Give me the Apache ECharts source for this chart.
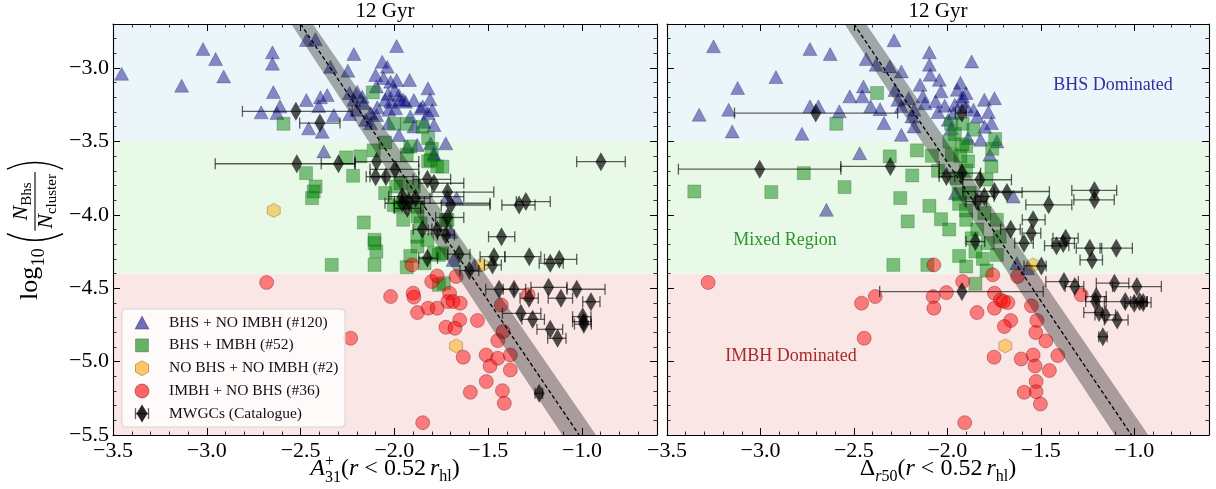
<!DOCTYPE html>
<html><head><meta charset="utf-8">
<script src="https://cdn.jsdelivr.net/npm/echarts@6/dist/echarts.min.js"></script>
<style>html,body{margin:0;padding:0;background:#fff}#c{width:1216px;height:489px}</style>
</head><body><div id="c"></div>
<script>
// ---------------- DATA ----------------
const xTickVals = [-3.5, -3.0, -2.5, -2.0, -1.5, -1.0];
const xTickLabels = ['\u22123.5', '\u22123.0', '\u22122.5', '\u22122.0', '\u22121.5', '\u22121.0'];
const yTickVals = [-5.5, -5.0, -4.5, -4.0, -3.5, -3.0];
const yTickLabels = ['\u22125.5', '\u22125.0', '\u22124.5', '\u22124.0', '\u22123.5', '\u22123.0'];
const xRange = [-3.5, -0.6];
const yRange = [-5.5, -2.7];
const regionBounds = [[-5.5, -4.4], [-4.4, -3.5], [-3.5, -2.7]]; // IMBH, Mixed, BHS
const seriesNames = ['BHS + NO IMBH (#120)', 'BHS + IMBH (#52)', 'NO BHS + NO IMBH (#2)', 'IMBH + NO BHS (#36)', 'MWGCs (Catalogue)'];
const panelTitles = ['12 Gyr', '12 Gyr'];
const regionLabels = ['BHS Dominated', 'Mixed Region', 'IMBH Dominated'];
const fitLine = [[-2.50, -2.7], [-1.015, -5.5]];
const fitBand = [[-2.55, -2.7], [-2.435, -2.7], [-0.925, -5.5], [-1.105, -5.5]];

// Left panel (A31+)
const leftTri = [[-3.454,-3.039],[-3.134,-3.120],[-3.020,-2.870],[-2.953,-2.939],[-2.910,-3.057],[-2.650,-2.893],[-2.650,-2.970],[-2.645,-3.164],[-2.710,-3.302],[-2.610,-3.261],[-2.626,-3.307],
[-2.469,-2.809],[-2.421,-2.804],[-2.216,-2.904],[-1.988,-2.850],[-2.065,-2.957],[-2.038,-2.991],[-2.341,-2.991],[-2.248,-3.018],[-2.100,-3.047],[-2.020,-3.093],[-1.988,-3.081],[-1.919,-3.081],[-1.821,-3.138],[-1.999,-3.150],[-1.976,-3.184],[-2.469,-3.218],[-2.394,-3.199],[-2.358,-3.184],[-2.403,-3.259],[-2.323,-3.320],[-2.238,-3.313],[-2.457,-3.411],[-2.385,-3.434],[-2.198,-3.161],[-2.171,-3.195],[-2.091,-3.267],[-2.095,-3.320],[-2.020,-3.229],[-1.994,-3.274],[-1.940,-3.229],[-1.896,-3.218],[-1.860,-3.274],[-1.810,-3.213],[-1.798,-3.286],[-1.789,-3.388],[-1.842,-3.366],[-1.976,-3.456],[-2.127,-3.376],[-1.726,-3.513],
[-2.239,-3.170],[-2.216,-3.216],[-2.163,-3.239],[-2.049,-3.216],[-2.030,-3.284],[-2.030,-3.375],[-1.972,-3.216],[-1.915,-3.330],[-1.820,-3.307],[-2.058,-3.068],[-1.953,-3.216],[-2.125,-3.307],[-2.153,-3.352],[-2.201,-3.284],[-1.896,-3.398],[-1.849,-3.261],[-2.033,-3.175],[-2.096,-3.125],
[-2.376,-3.568],[-1.791,-3.580],[-1.668,-3.886],[-1.931,-3.536],[-1.878,-3.524],[-1.807,-3.513],[-1.789,-3.592],[-1.717,-3.876],[-1.700,-4.115],[-1.687,-4.307],[-1.572,-4.341]];
const leftSq = [[-2.591,-3.380],[-2.115,-3.166],[-2.001,-3.380],[-1.934,-3.380],[-2.049,-3.507],[-2.110,-3.561],[-2.258,-3.609],[-2.182,-3.602],[-2.220,-3.734],[-2.471,-3.716],[-2.420,-3.807],[-2.430,-3.841],[-2.439,-3.886],[-2.163,-4.052],[-2.106,-4.170],[-2.049,-3.852],[-1.953,-3.920],[-1.934,-3.591],[-1.915,-3.534],[-1.820,-3.477],[-1.820,-3.636],[-1.772,-3.670],[-1.896,-3.807],[-1.991,-3.807],[-1.972,-3.943],[-1.953,-4.034],[-1.877,-4.011],[-1.725,-4.034],
[-2.334,-4.341],[-2.106,-4.341],[-2.096,-4.250],[-2.106,-4.193],[-1.915,-4.280],[-1.934,-4.357],[-1.763,-4.273],[-1.763,-4.477],[-1.839,-4.330],[-1.877,-4.216],
[-2.003,-3.933],[-1.878,-4.149],[-1.807,-3.626],[-1.967,-3.785],[-1.878,-3.945],[-1.860,-4.058],[-1.824,-4.171],[-1.789,-4.262],[-1.744,-3.672],[-1.717,-4.035],[-1.744,-4.262],[-1.736,-4.466],[-1.85,-3.40],[-1.80,-3.55]];
const leftHex = [[-2.643,-3.970],[-1.671,-4.893],[-1.534,-4.341]];
const leftCirc = [[-2.681,-4.461],[-2.233,-4.841],[-2.020,-4.557],[-1.900,-4.534],[-1.896,-4.561],[-1.877,-4.666],[-1.820,-4.636],[-1.772,-4.636],[-1.801,-4.455],[-1.772,-4.416],[-1.671,-4.420],[-1.706,-4.534],[-1.715,-4.591],[-1.687,-4.591],[-1.649,-4.602],[-1.652,-4.716],[-1.725,-4.766],[-1.677,-4.773],[-1.557,-4.720],[-1.906,-4.341],[-1.633,-4.970],[-1.511,-4.955],[-1.490,-5.030],[-1.449,-4.977],[-1.382,-4.955],[-1.382,-5.057],[-1.510,-5.136],[-1.595,-5.209],[-1.424,-5.198],[-1.414,-5.284],[-1.849,-5.416],[-1.458,-5.511],[-1.449,-4.857],[-1.430,-4.614],[-1.420,-4.795],[-1.287,-4.545]];
// MWGCs: [x, y, xLow, xHigh]
const leftMW = [[-2.525,-3.295,-2.81,-2.225],[-2.397,-3.375,-2.505,-2.29],[-2.52,-3.652,-2.955,-2.21],[-2.298,-3.652,-2.39,-2.21],[-2.095,-3.637,-2.21,-1.87],[-2.100,-3.740,-2.15,-2.05],[-2.045,-3.740,-2.13,-1.87],[-1.996,-3.690,-2.13,-1.87],[-1.958,-3.876,-2.03,-1.63],[-1.958,-3.921,-2.05,-1.49],[-1.923,-3.910,-2.0,-1.84],[-1.931,-3.956,-2.0,-1.86],[-1.887,-3.887,-1.96,-1.81],[-1.824,-3.758,-1.90,-1.70],[-1.789,-3.785,-1.87,-1.63],[-1.717,-3.845,-1.80,-1.47],[-1.700,-3.933,-1.75,-1.49],[-1.717,-4.018,-1.78,-1.63],[-1.851,-4.099,-1.90,-1.80],[-1.771,-4.103,-1.82,-1.72],[-1.726,-4.137,-1.77,-1.68],[-1.824,-4.296,-1.87,-1.77],[-1.655,-4.268,-1.717,-1.597],[-1.60,-4.38,-1.65,-1.55],[-0.899,-3.638,-1.028,-0.769],[-1.335,-3.933,-1.427,-1.25],[-1.299,-3.910,-1.35,-1.169],[-1.429,-4.149,-1.498,-1.358],[-1.469,-4.285,-1.543,-1.411],[-1.477,-4.342,-1.52,-1.43],[-1.281,-4.285,-1.411,-1.219],[-1.169,-4.330,-1.228,-1.10],[-1.121,-4.303,-1.20,-1.028],[-1.442,-4.507,-1.513,-1.362],[-1.362,-4.507,-1.42,-1.30],[-1.282,-4.568,-1.330,-1.233],[-1.178,-4.494,-1.272,-1.080],[-1.112,-4.568,-1.18,-1.05],[-1.028,-4.507,-1.080,-0.877],[-0.952,-4.592,-0.996,-0.904],[-1.326,-4.671,-1.424,-1.219],[-1.263,-4.712,-1.32,-1.20],[-1.169,-4.780,-1.240,-1.103],[-1.130,-4.841,-1.183,-1.085],[-0.996,-4.694,-1.050,-0.952],[-0.991,-4.728,-1.050,-0.952],[-0.990,-4.745,-1.04,-0.95],[-1.228,-5.216,-1.25,-1.21]];

// Right panel (Delta r50)
const rightTri = [[-3.251,-2.852],[-3.328,-3.318],[-3.170,-3.284],[-3.151,-3.432],[-3.122,-3.136],[-2.917,-3.061],[-2.735,-2.870],[-2.627,-2.905],[-2.735,-3.261],[-2.690,-3.261],[-2.578,-3.295],[-2.778,-3.448],[-2.522,-3.193],[-2.449,-3.125],[-2.455,-3.193],[-2.410,-3.261],[-2.434,-2.939],[-2.381,-2.977],[-2.308,-2.989],[-2.246,-3.023],[-2.285,-2.811],[-2.339,-3.375],[-2.265,-3.216],[-2.246,-3.261],[-2.207,-3.205],[-2.178,-3.284],[-2.246,-3.455],[-2.178,-3.398],[-2.146,-3.114],[-2.096,-2.893],[-2.096,-2.977],[-2.092,-3.045],[-2.043,-3.080],[-2.034,-3.159],[-2.063,-3.227],[-2.014,-3.257],[-2.131,-3.193],[-1.947,-3.148],[-1.922,-3.227],[-1.870,-2.955],[-1.899,-3.261],[-1.860,-3.284],[-1.802,-3.216],[-1.748,-3.205],[-1.764,-3.375],[-1.822,-3.489],[-1.735,-3.500],[-1.889,-3.477],[-1.773,-3.591],[-2.469,-3.580],[-2.647,-3.966],[-1.957,-3.852],[-1.647,-3.875],[-1.995,-3.352],[-1.966,-3.307],[-1.918,-3.193],[-1.628,-4.330],[-1.570,-4.364],
[-1.93,-3.10],[-1.90,-3.17],[-1.96,-3.25],[-1.84,-3.33],[-1.80,-3.40],[-2.12,-3.24],[-2.19,-3.33],[-2.05,-3.30],[-1.98,-3.41],[-1.78,-3.30],[-2.28,-3.15],[-2.36,-3.28]];
const rightSq = [[-2.376,-3.170],[-2.594,-3.380],[-1.980,-3.380],[-1.918,-3.380],[-1.989,-3.500],[-1.744,-3.484],[-2.163,-3.561],[-2.308,-3.602],[-2.083,-3.598],[-2.188,-3.732],[-2.768,-3.716],[-3.354,-3.841],[-2.942,-3.845],[-2.550,-3.811],[-2.252,-3.886],[-2.096,-3.939],[-2.212,-4.045],[-2.034,-4.030],[-1.899,-4.034],[-1.764,-3.670],[-1.889,-3.636],[-1.976,-3.591],[-1.899,-3.534],[-1.937,-3.925],[-1.802,-3.989],[-1.735,-4.034],[-2.289,-4.341],[-2.107,-4.341],[-1.937,-4.280],[-1.899,-4.352],[-1.850,-4.250],[-1.850,-4.470],[-1.735,-4.273],[-1.783,-4.193],
[-1.93,-3.60],[-1.90,-3.70],[-1.88,-3.85],[-1.84,-4.10],[-1.79,-3.76],[-1.95,-3.75],[-1.90,-3.97],[-1.81,-4.30],[-1.87,-4.16],[-1.96,-3.45],[-1.92,-3.52],[-1.86,-3.42],[-1.76,-3.55],[-1.72,-4.15],[-1.99,-4.10],[-1.79,-4.38],[-1.94,-3.86],[-2.05,-3.70]];
const rightHex = [[-1.690,-4.893],[-1.541,-4.341]];
const rightCirc = [[-3.280,-4.461],[-2.459,-4.602],[-2.386,-4.557],[-2.076,-4.557],[-2.072,-4.636],[-2.005,-4.530],[-1.918,-4.455],[-1.757,-4.409],[-1.748,-4.534],[-1.715,-4.580],[-1.676,-4.598],[-1.748,-4.636],[-1.841,-4.666],[-1.624,-4.420],[-1.550,-4.620],[-1.521,-4.720],[-1.661,-4.720],[-1.695,-4.761],[-1.527,-4.802],[-1.473,-4.859],[-1.409,-4.959],[-1.541,-4.955],[-1.531,-5.030],[-1.454,-5.061],[-1.525,-5.136],[-1.525,-5.205],[-1.589,-5.209],[-1.502,-5.289],[-1.750,-4.970],[-1.605,-4.982],[-2.445,-4.841],[-2.072,-4.341],[-1.907,-5.416],[-1.458,-5.511],[-1.284,-4.545],[-1.70,-4.59]];
const rightMW = [[-2.704,-3.307,-3.139,-2.266],[-1.922,-3.307,-1.957,-1.899],[-3.004,-3.689,-3.439,-2.570],[-2.305,-3.670,-2.570,-2.044],[-2.005,-3.739,-2.044,-1.96],[-1.922,-3.716,-2.044,-1.822],[-1.826,-3.761,-1.918,-1.657],[-1.748,-3.841,-1.918,-1.454],[-1.681,-3.848,-1.75,-1.60],[-1.802,-3.875,-1.85,-1.75],[-1.841,-3.909,-1.90,-1.79],[-1.458,-3.932,-1.580,-1.334],[-1.213,-3.834,-1.334,-1.094],[-1.213,-3.898,-1.323,-1.107],[-1.541,-4.034,-1.599,-1.477],[-1.661,-4.098,-1.715,-1.610],[-1.551,-4.125,-1.60,-1.50],[-1.367,-4.159,-1.435,-1.30],[-1.850,-4.182,-1.90,-1.80],[-1.590,-4.193,-1.64,-1.54],[-1.416,-4.211,-1.48,-1.35],[-1.380,-4.195,-1.44,-1.32],[-1.238,-4.227,-1.310,-1.174],[-1.096,-4.227,-1.183,-1.010],[-1.226,-4.307,-1.290,-1.170],[-1.497,-4.348,-1.59,-1.471],[-1.376,-4.455,-1.473,-1.299],[-1.318,-4.489,-1.37,-1.27],[-1.922,-4.523,-2.362,-1.487],[-1.203,-4.557,-1.26,-1.15],[-1.207,-4.591,-1.26,-1.15],[-1.106,-4.466,-1.203,-1.029],[-0.986,-4.489,-1.116,-0.855],[-1.048,-4.591,-1.160,-0.933],[-1.000,-4.602,-1.05,-0.95],[-0.971,-4.591,-1.02,-0.93],[-0.952,-4.598,-1.00,-0.91],[-1.188,-4.666,-1.27,-1.17],[-1.155,-4.682,-1.21,-1.10],[-1.091,-4.716,-1.160,-1.033],[-1.168,-4.830,-1.19,-1.145]];

// ---------------- STYLE / LAYOUT ----------------
const SERIF = '"Liberation Serif","DejaVu Serif",serif';
const grids = [{left: 113, top: 24, width: 544, height: 411}, {left: 667, top: 24, width: 542, height: 411}];
const regionColors = ['#fbe6e6', '#e8f9e8', '#ecf6fa'];
const C = {
  tri: 'rgba(0,0,128,0.56)', triB: 'rgba(0,0,70,0.45)',
  sq: 'rgba(0,128,0,0.6)', sqB: 'rgba(0,60,0,0.4)',
  hex: 'rgba(255,165,0,0.6)', hexB: 'rgba(0,0,0,0.4)',
  circ: 'rgba(255,0,0,0.6)', circB: 'rgba(60,0,0,0.5)',
  mw: 'rgba(0,0,0,0.85)', err: 'rgba(0,0,0,0.62)'
};
const mctx = document.createElement('canvas').getContext('2d');
function fnt(s, it) { return (it ? 'italic ' : '') + s + 'px ' + SERIF; }
function measure(t, s, it) { mctx.font = fnt(s, it); return mctx.measureText(t).width; }
function txt(t, x, base, s, it, color) {
  return {type: 'text', z: 100, x: x, y: base - 0.34 * s, style: {text: t, font: fnt(s, it), fill: color || '#000', align: 'left', verticalAlign: 'middle'}};
}
function mathRow(pieces, x0, base) {
  let x = x0; const ch = [];
  pieces.forEach(p => {
    if (p.stack) {
      let w = 0;
      p.stack.forEach(q => { ch.push(txt(q.t, x, base + (q.dy || 0), q.s, q.it)); w = Math.max(w, measure(q.t, q.s, q.it)); });
      x += w;
    } else if (p.gap) { x += p.gap; }
    else { ch.push(txt(p.t, x, base + (p.dy || 0), p.s, p.it)); x += measure(p.t, p.s, p.it); }
  });
  return {children: ch, width: x - x0};
}
function centeredRow(pieces, cx, base) {
  const w = mathRow(pieces, 0, 0).width;
  return mathRow(pieces, cx - w / 2, base).children;
}
const M = 24, S = 16;
const tailPieces = [{t: '(', s: M}, {t: 'r', s: M, it: true}, {t: ' < ', s: M}, {t: '0.52', s: M}, {gap: 4}, {t: 'r', s: M, it: true}, {t: 'hl', s: S, dy: 5}, {t: ')', s: M}];
const xLabelLeft = [{t: 'A', s: M, it: true}, {stack: [{t: '+', s: S, dy: -10}, {t: '31', s: S, dy: 6}]}].concat(tailPieces);
const xLabelRight = [{t: '\u0394', s: M}, {t: 'r', s: S, it: true, dy: 5}, {t: '50', s: S, dy: 5}].concat(tailPieces);

function paren(x, ax, ph, pw, left) {
  const xe = left ? x + pw : x, xc = left ? x - 4 : x + pw + 4;
  return {type: 'bezierCurve', shape: {x1: xe, y1: ax - ph / 2, x2: xe, y2: ax + ph / 2, cpx1: xc, cpy1: ax}, style: {stroke: '#000', lineWidth: 1.5, fill: null}};
}
function yLabel() {
  const ch = []; let x = 0;
  const ax = -4, LS = 26, SS = 18, NS = 22, NSS = 15;
  ch.push(txt('log', x, 0, LS)); x += measure('log', LS);
  ch.push(txt('10', x + 0.5, 6, SS)); x += measure('10', SS) + 6;
  const ph = 56, pw = 9;
  ch.push(paren(x, ax, ph, pw, true));
  x += pw + 3;
  const nW = measure('N', NS, true);
  const numW = nW + measure('Bhs', NSS);
  const denW = nW + measure('cluster', NSS);
  const fw = Math.max(numW, denW) + 4;
  const nx = x + (fw - numW) / 2, dx = x + (fw - denW) / 2;
  ch.push(txt('N', nx, -10, NS, true)); ch.push(txt('Bhs', nx + nW, -6.5, NSS));
  ch.push(txt('N', dx, 14.5, NS, true)); ch.push(txt('cluster', dx + nW, 18, NSS));
  ch.push({type: 'line', shape: {x1: x, y1: ax, x2: x + fw, y2: ax}, style: {stroke: '#000', lineWidth: 1.1}});
  x += fw + 3;
  ch.push(paren(x, ax, ph, pw, false));
  x += pw;
  const half = x / 2;
  ch.forEach(c => {
    if (c.type === 'text') c.x -= half;
    else if (c.type === 'line') { c.shape.x1 -= half; c.shape.x2 -= half; }
    else { c.shape.x1 -= half; c.shape.x2 -= half; c.shape.cpx1 -= half; }
  });
  return {type: 'group', z: 100, x: 39, y: 230, rotation: Math.PI / 2, children: ch};
}

function fmtX(v) { const i = xTickVals.findIndex(t => Math.abs(t - v) < 1e-6); return i >= 0 ? xTickLabels[i] : ''; }
function fmtY(v) { const i = yTickVals.findIndex(t => Math.abs(t - v) < 1e-6); return i >= 0 ? yTickLabels[i] : ''; }

const xAxes = [], yAxes = [];
grids.forEach((g, gi) => {
  ['bottom', 'top'].forEach(pos => {
    xAxes.push({type: 'value', gridIndex: gi, position: pos, min: xRange[0], max: xRange[1], interval: 0.5,
      axisLine: {show: true, onZero: false, lineStyle: {color: '#000', width: 1.1}},
      axisTick: {show: true, inside: true, length: 7, lineStyle: {color: '#000', width: 1}},
      axisLabel: {show: pos === 'bottom', formatter: fmtX, fontFamily: SERIF, fontSize: 22, color: '#000', margin: 5, showMaxLabel: false, hideOverlap: false},
      splitLine: {show: false}});
    xAxes.push({type: 'value', gridIndex: gi, position: pos, min: xRange[0], max: xRange[1], interval: 0.1,
      axisLine: {show: false, onZero: false}, axisTick: {show: true, inside: true, length: 3.5, lineStyle: {color: '#000', width: 0.8}},
      axisLabel: {show: false}, splitLine: {show: false}});
  });
  ['left', 'right'].forEach(pos => {
    yAxes.push({type: 'value', gridIndex: gi, position: pos, min: yRange[0], max: yRange[1], interval: 0.5,
      axisLine: {show: true, onZero: false, lineStyle: {color: '#000', width: 1.1}},
      axisTick: {show: true, inside: true, length: 7, lineStyle: {color: '#000', width: 1}},
      axisLabel: {show: pos === 'left' && gi === 0, formatter: fmtY, fontFamily: SERIF, fontSize: 22, color: '#000', margin: 4, showMaxLabel: false},
      splitLine: {show: false}});
    yAxes.push({type: 'value', gridIndex: gi, position: pos, min: yRange[0], max: yRange[1], interval: 0.1,
      axisLine: {show: false, onZero: false}, axisTick: {show: true, inside: true, length: 3.5, lineStyle: {color: '#000', width: 0.8}},
      axisLabel: {show: false}, splitLine: {show: false}});
  });
});

const series = [];
const panels = [
  {tri: leftTri, sq: leftSq, hex: leftHex, circ: leftCirc, mw: leftMW},
  {tri: rightTri, sq: rightSq, hex: rightHex, circ: rightCirc, mw: rightMW}
];
const hexPath = 'path://M0,-1 L0.866,-0.5 L0.866,0.5 L0,1 L-0.866,0.5 L-0.866,-0.5 Z';
panels.forEach((p, gi) => {
  const ax = {xAxisIndex: gi * 4, yAxisIndex: gi * 4};
  series.push(Object.assign({type: 'custom', z: 0, silent: true, clip: true, data: regionBounds.map((b, i) => [b[0], b[1], i]),
    renderItem: (params, api) => {
      const a = api.coord([xRange[0], api.value(1)]), b = api.coord([xRange[1], api.value(0)]);
      return {type: 'rect', shape: {x: a[0], y: a[1], width: b[0] - a[0], height: b[1] - a[1]}, style: {fill: regionColors[api.value(2)]}};
    }}, ax));
  series.push(Object.assign({name: seriesNames[0], type: 'scatter', z: 2, symbol: 'triangle', symbolSize: [14, 13], data: p.tri,
    itemStyle: {color: C.tri, borderColor: C.triB, borderWidth: 0.7}}, ax));
  series.push(Object.assign({name: seriesNames[1], type: 'scatter', z: 2, symbol: 'rect', symbolSize: 13, data: p.sq,
    itemStyle: {color: C.sq, borderColor: C.sqB, borderWidth: 0.7}}, ax));
  series.push(Object.assign({name: seriesNames[2], type: 'scatter', z: 2, symbol: hexPath, symbolSize: [13, 14], data: p.hex,
    itemStyle: {color: C.hex, borderColor: C.hexB, borderWidth: 0.7}}, ax));
  series.push(Object.assign({name: seriesNames[3], type: 'scatter', z: 2, symbol: 'circle', symbolSize: 14, data: p.circ,
    itemStyle: {color: C.circ, borderColor: C.circB, borderWidth: 0.8}}, ax));
  series.push(Object.assign({type: 'custom', z: 3, silent: true, clip: true, data: [0],
    renderItem: (params, api) => {
      const pts = fitBand.map(q => api.coord(q));
      return {type: 'polygon', shape: {points: pts}, style: {fill: 'rgba(0,0,0,0.32)'}};
    }}, ax));
  series.push(Object.assign({type: 'line', z: 4, silent: true, data: fitLine, symbol: 'none',
    lineStyle: {color: '#000', width: 1.3, type: [4, 2.5]}}, ax));
  series.push(Object.assign({type: 'custom', z: 5, silent: true, clip: true, data: p.mw, encode: {x: 0, y: 1},
    renderItem: (params, api) => {
      const y = api.value(1);
      const a = api.coord([api.value(2), y]), b = api.coord([api.value(3), y]);
      const st = {stroke: C.err, lineWidth: 1.3};
      return {type: 'group', children: [
        {type: 'line', shape: {x1: a[0], y1: a[1], x2: b[0], y2: b[1]}, style: st},
        {type: 'line', shape: {x1: a[0], y1: a[1] - 5.5, x2: a[0], y2: a[1] + 5.5}, style: st},
        {type: 'line', shape: {x1: b[0], y1: b[1] - 5.5, x2: b[0], y2: b[1] + 5.5}, style: st}
      ]};
    }}, ax));
  series.push(Object.assign({name: seriesNames[4], type: 'scatter', z: 6, symbol: 'diamond', symbolSize: [11, 19], data: p.mw.map(d => [d[0], d[1]]),
    itemStyle: {color: C.mw}}, ax));
});

const graphic = [];
grids.forEach((g, gi) => {
  const w = measure(panelTitles[gi], 21);
  graphic.push(txt(panelTitles[gi], g.left + g.width / 2 - w / 2, 19, 21));
});
centeredRow(xLabelLeft, grids[0].left + grids[0].width / 2, 477).forEach(c => graphic.push(c));
centeredRow(xLabelRight, grids[1].left + grids[1].width / 2, 477).forEach(c => graphic.push(c));
graphic.push(yLabel());
const regTxt = [
  {t: regionLabels[0], cx: 1113, by: 91, color: '#3030a6'},
  {t: regionLabels[1], cx: 785, by: 246, color: '#2e942e'},
  {t: regionLabels[2], cx: 791, by: 362, color: '#a82a2a'}
];
regTxt.forEach(r => { graphic.push(txt(r.t, r.cx - measure(r.t, 18) / 2, r.by, 18, false, r.color)); });

// legend (drawn as graphic so that icon / text placement matches)
const LG = {x: 122, y: 309, w: 223, h: 118, rows: [322.6, 345.4, 368.2, 391, 413.6], icx: 142, tx: 169, fs: 15.5};
graphic.push({type: 'rect', z: 90, shape: {x: LG.x, y: LG.y, width: LG.w, height: LG.h, r: 4},
  style: {fill: 'rgba(255,255,255,0.8)', stroke: '#d4d4d4', lineWidth: 1}});
(function () {
  const cx = LG.icx, r = LG.rows;
  graphic.push({type: 'polygon', z: 95, shape: {points: [[cx - 7, r[0] + 6.5], [cx + 7, r[0] + 6.5], [cx, r[0] - 6.5]]}, style: {fill: C.tri, stroke: C.triB, lineWidth: 0.7}});
  graphic.push({type: 'rect', z: 95, shape: {x: cx - 6.5, y: r[1] - 6.5, width: 13, height: 13}, style: {fill: C.sq, stroke: C.sqB, lineWidth: 0.7}});
  graphic.push({type: 'polygon', z: 95, shape: {points: [[cx, r[2] - 7.5], [cx + 6.5, r[2] - 3.75], [cx + 6.5, r[2] + 3.75], [cx, r[2] + 7.5], [cx - 6.5, r[2] + 3.75], [cx - 6.5, r[2] - 3.75]]}, style: {fill: C.hex, stroke: C.hexB, lineWidth: 0.7}});
  graphic.push({type: 'circle', z: 95, shape: {cx: cx, cy: r[3], r: 7}, style: {fill: C.circ, stroke: C.circB, lineWidth: 0.8}});
  const y4 = r[4], st = {stroke: C.err, lineWidth: 1.3};
  graphic.push({type: 'line', z: 95, shape: {x1: cx - 6.5, y1: y4, x2: cx + 6.5, y2: y4}, style: st});
  graphic.push({type: 'line', z: 95, shape: {x1: cx - 6.5, y1: y4 - 5.5, x2: cx - 6.5, y2: y4 + 5.5}, style: st});
  graphic.push({type: 'line', z: 95, shape: {x1: cx + 6.5, y1: y4 - 5.5, x2: cx + 6.5, y2: y4 + 5.5}, style: st});
  graphic.push({type: 'polygon', z: 96, shape: {points: [[cx, y4 - 9], [cx + 5.5, y4], [cx, y4 + 9], [cx - 5.5, y4]]}, style: {fill: C.mw}});
  seriesNames.forEach((n, i) => graphic.push(txt(n, LG.tx, r[i] + 0.34 * LG.fs, LG.fs, false, '#111')));
})();

const chart = echarts.init(document.getElementById('c'), null, {renderer: 'canvas'});
chart.setOption({
  animation: false,
  backgroundColor: '#fff',
  grid: grids.map(g => Object.assign({containLabel: false, outerBoundsMode: 'none'}, g)),
  xAxis: xAxes,
  yAxis: yAxes,
  series: series,
  graphic: graphic
});
</script>
</body></html>
